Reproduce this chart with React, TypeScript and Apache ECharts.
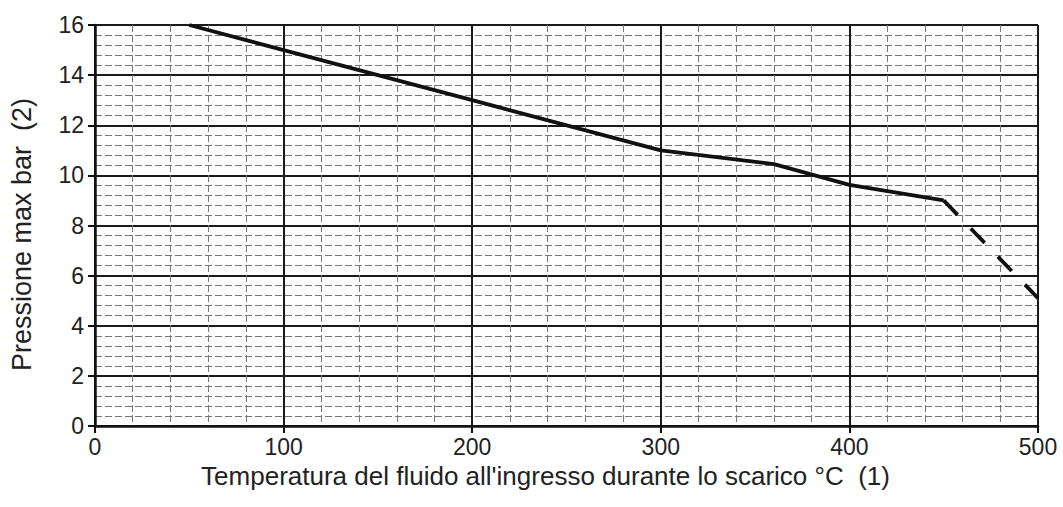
import React, { useEffect, useRef } from "react";
import * as echarts from "echarts";

const solidCurve: [number, number][] = [
  [50, 16],
  [100, 15],
  [200, 13],
  [300, 11],
  [360, 10.45],
  [400, 9.62],
  [450, 9],
];
const dashedCurve: [number, number][] = [
  [450, 9],
  [500, 5.1],
];
const xTitle = "Temperatura del fluido all'ingresso durante lo scarico °C  (1)";
const yTitle = "Pressione max bar  (2)";

export default function App() {
  const ref = useRef<HTMLDivElement>(null);
  useEffect(() => {
    if (!ref.current) return;
    const chart = echarts.init(ref.current, undefined, { renderer: "svg" });
    const font = "Liberation Sans, Arial, Helvetica, sans-serif";
    const axisCommon = {
      axisLine: { show: true, lineStyle: { color: "#111", width: 2.5 } },
      axisTick: { show: true, length: 7, lineStyle: { color: "#111", width: 2 } },
      splitLine: { show: true, lineStyle: { color: "#1a1a1a", width: 2 } },
      minorTick: { show: false, splitNumber: 5 },
      minorSplitLine: { show: true, lineStyle: { color: "#777", width: 1, type: [7, 3] } },
    };
    chart.setOption({
      animation: false,
      backgroundColor: "#fff",
      grid: { left: 94, right: 25, top: 25, bottom: 81, containLabel: false },
      xAxis: {
        type: "value",
        min: 0,
        max: 500,
        interval: 100,
        ...axisCommon,
        axisLabel: { color: "#222", fontSize: 23, fontFamily: font, margin: 9 },
        name: xTitle,
        nameLocation: "middle",
        nameGap: 24,
        nameTextStyle: {
          color: "#222",
          fontSize: 26,
          fontFamily: font,
          padding: [0, 42, 0, 0],
        },
      },
      yAxis: {
        type: "value",
        min: 0,
        max: 16,
        interval: 2,
        ...axisCommon,
        axisLabel: { color: "#222", fontSize: 23, fontFamily: font, margin: 11 },
        name: yTitle,
        nameLocation: "middle",
        nameGap: 60,
        nameTextStyle: {
          color: "#222",
          fontSize: 27,
          fontFamily: font,
          padding: [0, 18, 0, 0],
        },
      },
      series: [
        {
          type: "line",
          data: solidCurve,
          showSymbol: false,
          symbol: "none",
          lineStyle: { color: "#111", width: 3.8 },
          z: 5,
        },
        {
          type: "line",
          data: dashedCurve,
          showSymbol: false,
          symbol: "none",
          lineStyle: { color: "#111", width: 3.8, type: [20, 19] },
          z: 5,
        },
      ],
    });
    return () => chart.dispose();
  }, []);
  return (
    <div
      ref={ref}
      style={{ position: "fixed", left: 0, top: 0, width: 1063, height: 507 }}
    />
  );
}
